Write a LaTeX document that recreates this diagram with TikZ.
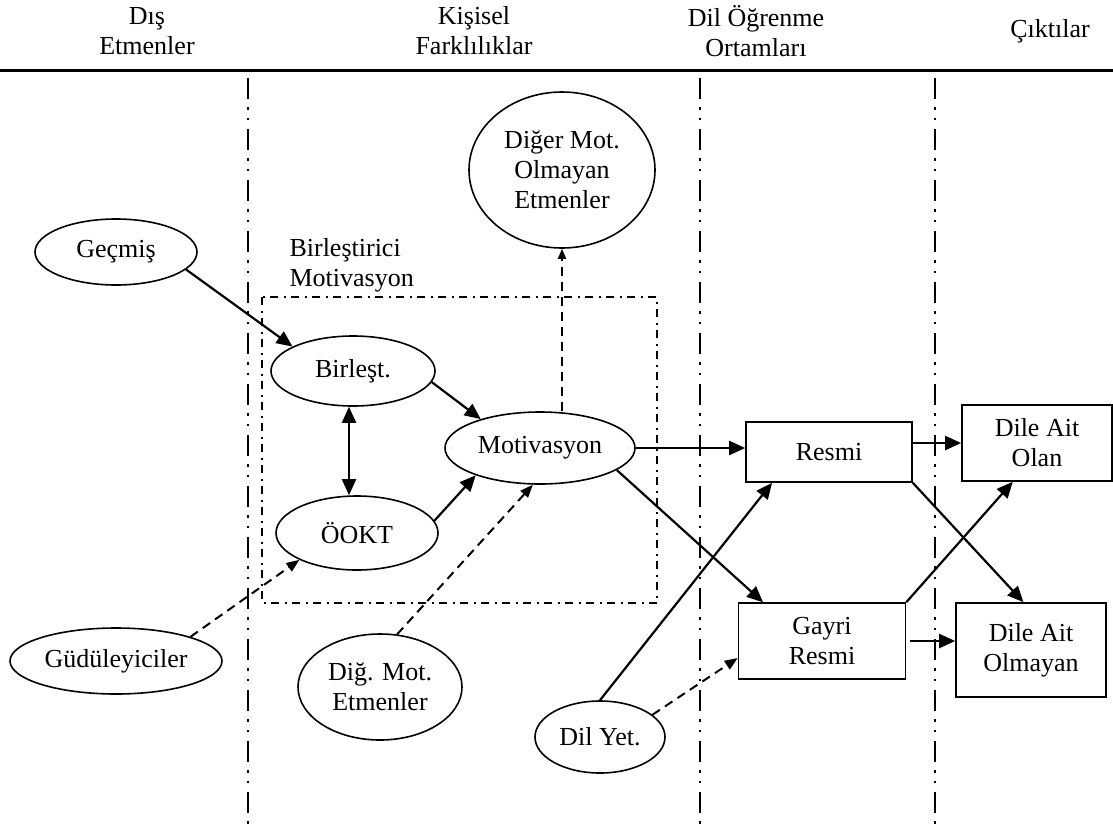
\documentclass[tikz,border=0pt]{standalone}
\usepackage{fontspec}
\setmainfont{Liberation Serif}
\usetikzlibrary{positioning,arrows.meta,calc,shapes.geometric}
\tikzset{
  elps/.style={draw, ellipse, line width=1.6pt, inner sep=0pt, align=center},
  kutu/.style={draw, rectangle, line width=1.6pt, inner sep=0pt, align=center},
  arr/.style={-{Triangle[length=16pt,width=14pt]}, line width=2.2pt},
  darr/.style={-{Triangle[length=13pt,width=10pt]}, line width=2pt, dash pattern=on 9pt off 6pt},
  dbl/.style={{Triangle[length=16pt,width=14pt]}-{Triangle[length=16pt,width=14pt]}, line width=2.2pt},
  ayrac/.style={line width=2.6pt, dash pattern=on 21pt off 8pt on 2.5pt off 8pt on 2.5pt off 9pt},
  grup/.style={line width=1.4pt, dash pattern=on 8pt off 5.5pt on 2pt off 5.5pt},
  baslik/.style={align=center},
}

\begin{document}
\begin{tikzpicture}[x=1pt, y=-1pt, font=\fontsize{26pt}{30pt}\selectfont]
    \useasboundingbox (0,0) rectangle (1113,825);
    % column headers
    \node[baslik] (dis) at (147,31) {Dış\\Etmenler};
    \node[baslik] (kisisel) at (474,31) {Kişisel\\Farklılıklar};
    \node[baslik] (ortam) at (756,31) {Dil Öğrenme\\Ortamları};
    \node[baslik] (cikti) at (1050,31) {Çıktılar};
    \draw[line width=3pt] (0,70) -- (1113,70);
    \foreach \x in {248,700,935}
      \draw[ayrac] (\x,78) -- (\x,825);
    % integrative motivation group
    \draw[grup] (262,297) rectangle (657,603);
    \node[align=left, anchor=west] (birlm) at (286,265) {Birleştirici\\Motivasyon};
    % nodes
    \node[elps, minimum width=162pt, minimum height=66pt] (gecmis) at (116,252) {Geçmiş};
    \node[elps, minimum width=164pt, minimum height=70pt] (birl) at (353,371) {Birleşt.};
    \node[elps, minimum width=162pt, minimum height=74pt] (ookt) at (357,533) {ÖOKT};
    \node[elps, minimum width=190pt, minimum height=72pt] (motiv) at (540,448) {Motivasyon};
    \node[elps, minimum width=186pt, minimum height=156pt] (diger) at (562,170) {Diğer Mot.\\Olmayan\\Etmenler};
    \node[elps, minimum width=212pt, minimum height=66pt] (gudu) at (116,661) {Güdüleyiciler};
    \node[elps, minimum width=164pt, minimum height=106pt] (digmot) at (380,687) {Diğ. Mot.\\Etmenler};
    \node[elps, minimum width=130pt, minimum height=72pt] (dilyet) at (600,737) {Dil Yet.};
    \node[kutu, minimum width=166pt, minimum height=60pt] (resmi) at (829,452) {Resmi};
    \node[kutu, minimum width=150pt, minimum height=76pt] (olan) at (1037,443) {Dile Ait\\Olan};
    \node[kutu, minimum width=167pt, minimum height=76pt] (gayri) at (822,641) {Gayri\\Resmi};
    \node[kutu, minimum width=150pt, minimum height=94pt] (olmayan) at (1031,650) {Dile Ait\\Olmayan};
    % connectors
    \draw[arr] (gecmis.-14) -- (birl.158);
    \draw[dbl] ([xshift=-4pt]birl.south) -- ([xshift=-4pt]birl.south |- ookt.north);
    \draw[arr] (birl.-8) -- (motiv.154);
    \draw[arr] (ookt.9) -- (motiv.-157);
    \draw[darr] (gudu.18) -- (ookt.-155);
    \draw[darr] (digmot.72) -- (motiv.-101);
    \draw[darr, -{Triangle[length=10pt,width=8pt]}] (diger.south |- motiv.north) -- (diger.south);
    \draw[arr] (motiv.east) -- (motiv.east -| resmi.west);
    \draw[arr] (motiv.-16) -- ($(gayri.north west)!0.15!(gayri.north east)$);
    \draw[arr] (olan.west -| resmi.east) -- (olan.west);
    \draw[arr] (resmi.south east) -- ($(olmayan.north west)!0.45!(olmayan.north east)$);
    \draw[arr] (gayri.north east) -- ($(olan.south west)!0.34!(olan.south east)$);
    \draw[arr] ([xshift=4pt]gayri.east) -- (gayri.east -| olmayan.west);
    \draw[arr] (dilyet.north) -- ($(resmi.south west)!0.16!(resmi.south east)$);
    \draw[darr] (dilyet.23) -- ([yshift=-17pt]gayri.west);
\end{tikzpicture}
\end{document}
